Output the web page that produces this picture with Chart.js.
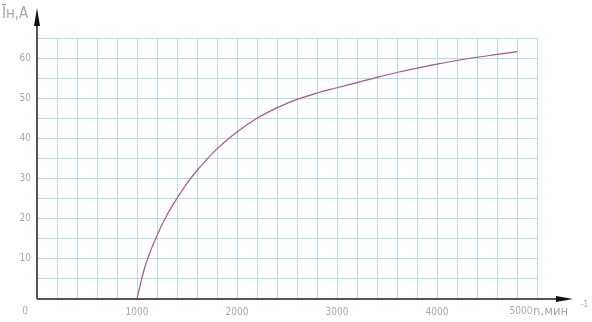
<!DOCTYPE html>
<html>
<head>
<meta charset="utf-8">
<script src="https://cdn.jsdelivr.net/npm/chart.js@4/dist/chart.umd.min.js"></script>
<style>
  html, body { margin: 0; padding: 0; background: #fff; }
  #wrap { width: 592px; height: 322px; }
</style>
</head>
<body>
<div id="wrap"><canvas id="chart"></canvas></div>
<script>
// speed n, 1/min
const speeds = [1000, 1050, 1100, 1200, 1300, 1400, 1500, 1600, 1800, 2000, 2200, 2400,
                2600, 2800, 3000, 3200, 3400, 3600, 3800, 4000, 4200, 4400, 4600, 4800];
// current In, A
const currents = [0, 5.3, 9.6, 15.8, 20.9, 25.1, 28.8, 32, 37.4, 41.6, 45, 47.6,
                  49.7, 51.3, 52.6, 53.9, 55.2, 56.4, 57.5, 58.5, 59.4, 60.2, 60.9, 61.6];
const xTicks = [0, 1000, 2000, 3000, 4000, 5000];
const yTicks = [10, 20, 30, 40, 50, 60];
const yTitle = 'Īн,A';
const xTitle = 'n,мин';
const xTitleSup = '-1';

const labelColor = '#a8a8a8';
const gridColor = '#b3dfe1';
const axisColor = '#555';
const font = "'DejaVu Sans Condensed', 'DejaVu Sans', sans-serif";

// end labels 0 and 5000 sit a bit left of their grid lines in the drawing
const endLabelShift = { 0: -12, 5000: -16 };

const axesPlugin = {
    id: 'axesArrows',
    afterDraw(chart) {
        const ctx = chart.ctx;
        const xs = chart.scales.x;
        const x0 = xs.getPixelForValue(0);
        const y0 = chart.scales.y.getPixelForValue(0);
        ctx.save();
        ctx.strokeStyle = axisColor;
        ctx.fillStyle = '#111';
        ctx.lineWidth = 2;
        // y axis
        ctx.beginPath();
        ctx.moveTo(x0, y0);
        ctx.lineTo(x0, 20);
        ctx.stroke();
        ctx.beginPath();
        ctx.moveTo(x0, 8);
        ctx.lineTo(x0 - 3, 26);
        ctx.lineTo(x0 + 3, 26);
        ctx.closePath();
        ctx.fill();
        // x axis
        ctx.beginPath();
        ctx.moveTo(x0, y0);
        ctx.lineTo(562, y0);
        ctx.stroke();
        ctx.beginPath();
        ctx.moveTo(573, y0);
        ctx.lineTo(556, y0 - 3);
        ctx.lineTo(556, y0 + 3);
        ctx.closePath();
        ctx.fill();
        // end tick labels
        ctx.fillStyle = labelColor;
        ctx.textAlign = 'center';
        ctx.textBaseline = 'middle';
        ctx.font = '10px ' + font;
        for (const v of Object.keys(endLabelShift)) {
            ctx.fillText(String(v), xs.getPixelForValue(+v) + endLabelShift[v], 311);
        }
        // titles
        ctx.textBaseline = 'alphabetic';
        ctx.textAlign = 'left';
        ctx.font = '15px ' + font;
        ctx.fillText(yTitle, 2, 18);
        ctx.font = '13px ' + font;
        ctx.fillText(xTitle, 533, 315);
        ctx.font = '8px ' + font;
        ctx.fillText(xTitleSup, 581, 307);
        ctx.restore();
    }
};

new Chart(document.getElementById('chart').getContext('2d'), {
    type: 'line',
    data: {
        datasets: [{
            data: speeds.map((s, i) => ({ x: s, y: currents[i] })),
            borderColor: '#a9558c',
            borderWidth: 1.2,
            pointRadius: 0,
            fill: false,
            tension: 0.4
        }]
    },
    options: {
        responsive: true,
        maintainAspectRatio: false,
        animation: false,
        layout: { padding: { top: 38, right: 55, bottom: 0, left: 0 } },
        plugins: { legend: { display: false }, tooltip: { enabled: false } },
        scales: {
            x: {
                type: 'linear',
                min: 0,
                max: 5000,
                border: { display: false },
                grid: { color: gridColor, lineWidth: 1, drawTicks: false },
                afterBuildTicks(scale) {
                    const t = [];
                    for (let v = 0; v <= 5000; v += 200) t.push({ value: v });
                    scale.ticks = t;
                },
                afterFit(scale) { scale.height = 23; },
                ticks: {
                    autoSkip: false,
                    maxRotation: 0,
                    padding: 7,
                    color: labelColor,
                    font: { family: font, size: 10 },
                    callback: v => (xTicks.includes(v) && !(v in endLabelShift)) ? String(v) : ''
                }
            },
            y: {
                min: 0,
                max: 65,
                border: { display: false },
                grid: { color: gridColor, lineWidth: 1, drawTicks: false },
                afterBuildTicks(scale) {
                    const t = [];
                    for (let v = 0; v <= 65; v += 5) t.push({ value: v });
                    scale.ticks = t;
                },
                afterFit(scale) { scale.width = 37; },
                ticks: {
                    autoSkip: false,
                    padding: 6,
                    color: labelColor,
                    font: { family: font, size: 10 },
                    callback: v => yTicks.includes(v) ? String(v) : ''
                }
            }
        }
    },
    plugins: [axesPlugin]
});
</script>
</body>
</html>
